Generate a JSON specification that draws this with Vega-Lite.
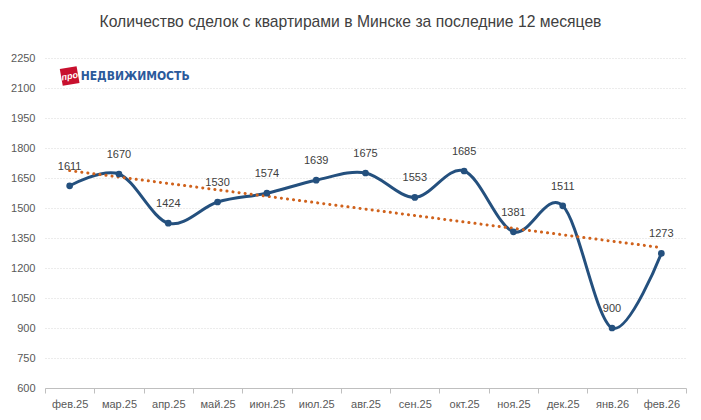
{
  "$schema": "https://vega.github.io/schema/vega-lite/v6.json",
  "width": 641,
  "height": 330,
  "autosize": {"type": "none"},
  "padding": {"left": 45, "top": 58, "right": 15, "bottom": 32},
  "background": "white",
  "config": {
    "view": {"stroke": null},
    "font": "Liberation Sans",
    "axisY": {
      "title": null,
      "format": "d",
      "domain": false,
      "ticks": false,
      "labelPadding": 10,
      "labelFontSize": 11,
      "labelColor": "#595959",
      "gridColor": "#d9d9d9",
      "gridDash": [1, 2]
    },
    "axisX": {
      "title": null,
      "labelAngle": 0,
      "tickBand": "extent",
      "domainColor": "#bfbfbf",
      "tickColor": "#bfbfbf",
      "tickSize": 5,
      "labelPadding": 5,
      "labelFontSize": 11,
      "labelColor": "#595959",
      "grid": false
    }
  },
  "title": {
    "text": "Количество сделок с квартирами в Минске за последние 12 месяцев",
    "fontSize": 15.7,
    "fontWeight": "normal",
    "color": "#404040",
    "anchor": "middle",
    "offset": 21,
    "dx": -15
  },
  "datasets": {
    "sales": [
      {"month": "фев.25", "value": 1611},
      {"month": "мар.25", "value": 1670},
      {"month": "апр.25", "value": 1424},
      {"month": "май.25", "value": 1530},
      {"month": "июн.25", "value": 1574},
      {"month": "июл.25", "value": 1639},
      {"month": "авг.25", "value": 1675},
      {"month": "сен.25", "value": 1553},
      {"month": "окт.25", "value": 1685},
      {"month": "ноя.25", "value": 1381},
      {"month": "дек.25", "value": 1511},
      {"month": "янв.26", "value": 900},
      {"month": "фев.26", "value": 1273}
    ],
    "trend": [
      {"month": "фев.25", "value": 1687},
      {"month": "фев.26", "value": 1302}
    ],
    "logo": [
      {"pro": "про", "brand": "НЕДВИЖИМОСТЬ"}
    ]
  },
  "layer": [
    {
      "data": {"name": "sales"},
      "mark": {"type": "line", "interpolate": "cardinal", "color": "#24507e", "strokeWidth": 3},
      "encoding": {
        "x": {
          "field": "month",
          "type": "ordinal",
          "sort": null,
          "scale": {"type": "band", "paddingInner": 0, "paddingOuter": 0, "domain": ["фев.25","мар.25","апр.25","май.25","июн.25","июл.25","авг.25","сен.25","окт.25","ноя.25","дек.25","янв.26","фев.26"]}
        },
        "y": {
          "field": "value",
          "type": "quantitative",
          "scale": {"domain": [600, 2250], "nice": false, "zero": false},
          "axis": {"values": [600, 750, 900, 1050, 1200, 1350, 1500, 1650, 1800, 1950, 2100, 2250]}
        }
      }
    },
    {
      "data": {"name": "trend"},
      "mark": {"type": "line", "color": "#d0621c", "strokeWidth": 3, "strokeDash": [0.1, 6], "strokeCap": "round"},
      "encoding": {
        "x": {"field": "month", "type": "ordinal", "sort": null},
        "y": {"field": "value", "type": "quantitative", "axis": {"values": [600, 750, 900, 1050, 1200, 1350, 1500, 1650, 1800, 1950, 2100, 2250]}}
      }
    },
    {
      "data": {"name": "sales"},
      "mark": {"type": "point", "filled": true, "opacity": 1, "color": "#24507e", "size": 45},
      "encoding": {
        "x": {"field": "month", "type": "ordinal", "sort": null},
        "y": {"field": "value", "type": "quantitative", "axis": {"values": [600, 750, 900, 1050, 1200, 1350, 1500, 1650, 1800, 1950, 2100, 2250]}}
      }
    },
    {
      "data": {"name": "sales"},
      "mark": {"type": "text", "dy": -19, "fontSize": 11, "color": "#404040", "baseline": "middle"},
      "encoding": {
        "x": {"field": "month", "type": "ordinal", "sort": null},
        "y": {"field": "value", "type": "quantitative", "axis": {"values": [600, 750, 900, 1050, 1200, 1350, 1500, 1650, 1800, 1950, 2100, 2250]}},
        "text": {"field": "value", "type": "quantitative", "format": "d"}
      }
    },
    {
      "data": {"name": "logo"},
      "mark": {"type": "point", "shape": "square", "filled": true, "opacity": 1, "color": "#c8102e", "size": 290, "angle": -10},
      "encoding": {"x": {"datum": "фев.25"}, "y": {"datum": 2160, "axis": {"values": [600, 750, 900, 1050, 1200, 1350, 1500, 1650, 1800, 1950, 2100, 2250]}}}
    },
    {
      "data": {"name": "logo"},
      "mark": {"type": "text", "color": "white", "fontSize": 9, "fontWeight": "bold", "fontStyle": "italic", "angle": -10, "baseline": "middle", "align": "center"},
      "encoding": {"x": {"datum": "фев.25"}, "y": {"datum": 2160, "axis": {"values": [600, 750, 900, 1050, 1200, 1350, 1500, 1650, 1800, 1950, 2100, 2250]}}, "text": {"field": "pro"}}
    },
    {
      "data": {"name": "logo"},
      "mark": {"type": "text", "color": "#2b5a9b", "font": "DejaVu Sans Condensed, Roboto Condensed, Liberation Sans", "fontSize": 12, "fontWeight": "bold", "baseline": "middle", "align": "left", "xOffset": 11},
      "encoding": {"x": {"datum": "фев.25"}, "y": {"datum": 2160, "axis": {"values": [600, 750, 900, 1050, 1200, 1350, 1500, 1650, 1800, 1950, 2100, 2250]}}, "text": {"field": "brand"}}
    }
  ]
}
